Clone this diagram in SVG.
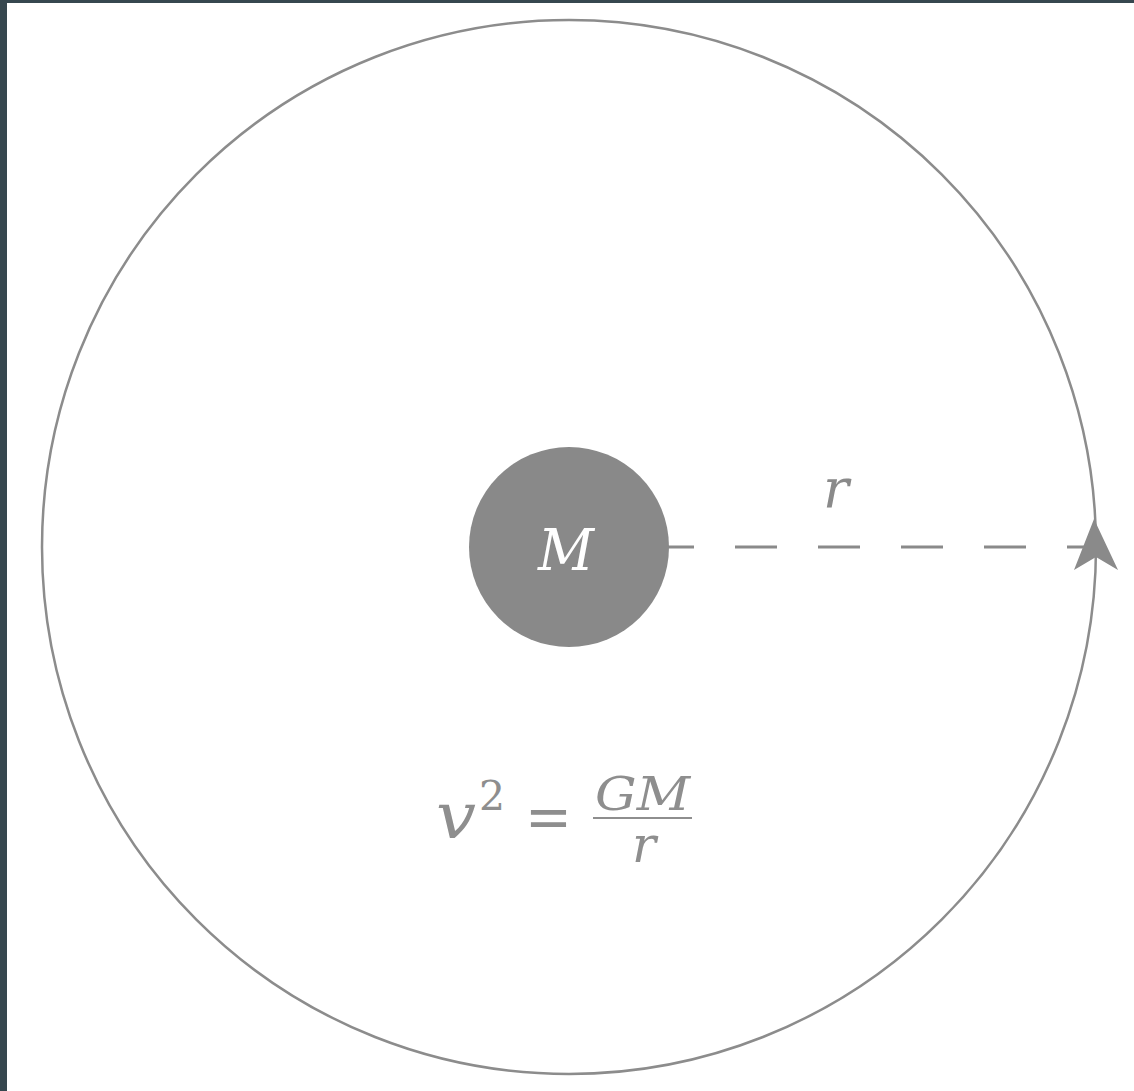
<svg xmlns="http://www.w3.org/2000/svg" width="1134" height="1091" viewBox="0 0 1134 1091">
  <style>
    .math { font-family: "DejaVu Serif", "Liberation Serif", serif; font-style: italic; }
    .up { font-family: "DejaVu Serif", "Liberation Serif", serif; }
  </style>
  <rect x="0" y="0" width="1134" height="1091" fill="#ffffff"/>
  <rect x="0" y="0" width="1134" height="3" fill="#36474f"/>
  <rect x="0" y="0" width="7" height="1091" fill="#36474f"/>

  <g id="connectors">
    <line x1="569" y1="547" x2="1096" y2="547" stroke="#8a8a8a" stroke-width="3" stroke-dasharray="42 41"/>
  </g>

  <g id="orbit">
    <circle cx="569" cy="547" r="527" fill="none" stroke="#8c8c8c" stroke-width="2.5"/>
    <polygon points="1094,519 1118,570 1096,557 1074,570" fill="#8a8a8a"/>
  </g>

  <g id="mass">
    <circle cx="569" cy="547" r="100" fill="#898989"/>
    <text x="566" y="570" class="math" font-size="58" fill="#ffffff" text-anchor="middle" textLength="56" lengthAdjust="spacingAndGlyphs">M</text>
  </g>

  <g id="radius-label">
    <text x="836" y="507" class="math" font-size="54" fill="#8a8a8a" text-anchor="middle">r</text>
  </g>

  <g id="equation" fill="#8e8e8e">
    <text x="436" y="838" class="math" font-size="64" textLength="40" lengthAdjust="spacingAndGlyphs">v</text>
    <text x="479" y="810" class="up" font-size="41">2</text>
    <text x="525" y="838" class="up" font-size="62" textLength="47" lengthAdjust="spacingAndGlyphs">=</text>
    <text x="595" y="810" class="math" font-size="46" textLength="95" lengthAdjust="spacingAndGlyphs">GM</text>
    <line x1="593" y1="818" x2="692" y2="818" stroke="#8e8e8e" stroke-width="2"/>
    <text x="644" y="862" class="math" font-size="50" text-anchor="middle">r</text>
  </g>
</svg>
